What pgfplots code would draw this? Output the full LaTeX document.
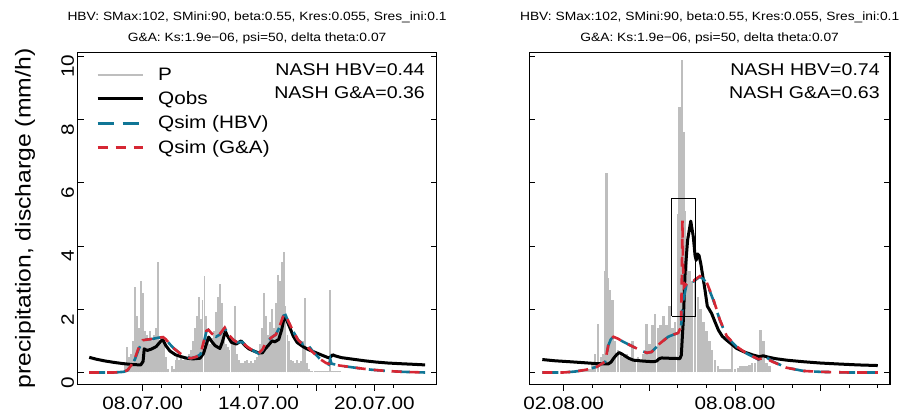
\documentclass[border=0pt]{standalone}
\usepackage{pgfplots}
\pgfplotsset{compat=1.18}
\usepackage{fontspec}
\setmainfont{Liberation Sans}[FakeStretch=1.15]
\definecolor{pgray}{RGB}{190,190,190}
\definecolor{hbvblue}{RGB}{16,118,150}
\definecolor{gared}{RGB}{214,39,52}

\pgfplotstableread{
x y
7.1 0.3
7.2 0.8
7.3 0.5
7.4 0.6
7.5 1.0
7.6 2.7
7.7 1.8
7.8 1.4
7.9 2.9
8.0 2.5
8.1 1.3
8.2 1.2
8.3 1.1
8.4 1.3
8.5 1.0
8.6 1.2
8.7 1.4
8.8 3.5
8.9 1.0
9.0 1.1
9.1 0.9
9.2 0.5
9.3 0.1
9.4 0.0
9.5 0.2
9.6 0.1
9.7 0.4
9.8 0.5
9.9 0.4
10.0 0.5
10.1 0.4
10.2 0.5
10.3 0.4
10.4 0.6
10.5 0.7
10.6 1.0
10.7 1.4
10.8 1.8
10.9 2.4
11.0 1.7
11.1 2.3
11.2 3.05
11.3 1.8
11.4 1.0
11.5 0.9
11.6 1.1
11.7 1.3
11.8 1.9
11.9 2.4
12.0 2.8
12.1 2.2
12.2 1.2
12.3 0.9
12.4 0.8
12.5 0.7
12.6 0.9
12.7 1.0
12.8 2.1
12.9 0.6
13.0 0.4
13.1 0.3
13.2 0.3
13.3 0.35
13.4 0.4
13.5 0.3
13.6 0.35
13.7 0.3
13.8 0.4
13.9 0.5
14.0 0.6
14.1 0.9
14.2 1.4
14.3 2.5
14.4 1.8
14.5 1.2
14.6 1.6
14.7 2.0
14.8 1.4
14.9 2.2
15.0 3.1
15.1 2.9
15.2 3.5
15.3 3.8
15.4 2.1
15.5 1.2
15.6 1.0
15.7 0.4
15.8 0.35
15.9 0.3
16.0 0.4
16.1 0.3
16.2 0.35
16.3 1.0
16.4 2.35
16.5 0.3
16.6 0.1
16.7 0.05
16.8 0.05
16.9 0.05
17.0 0.05
17.1 0.05
17.2 0.05
17.3 0.05
17.4 0.05
17.5 0.05
17.6 0.05
17.7 2.6
17.8 0.05
17.9 0.05
18.0 0.05
18.1 0.05
18.2 0.05
}\Pleft

\pgfplotstableread{
x y
5.23 0.48
5.6 0.42
6.0 0.37
6.5 0.32
7.0 0.28
7.5 0.25
7.9 0.24
8.02 0.35
8.08 0.75
8.15 0.72
8.25 0.70
8.45 0.74
8.7 0.82
8.95 1.0
9.05 1.03
9.2 0.85
9.41 0.68
9.7 0.56
10.0 0.5
10.3 0.45
10.6 0.43
10.97 0.45
11.15 0.6
11.3 0.9
11.42 1.12
11.55 1.0
11.75 0.85
12.0 0.76
12.12 0.95
12.28 1.3
12.4 1.15
12.6 0.95
12.85 0.9
13.1 1.0
13.3 0.85
13.5 0.75
13.75 0.68
14.0 0.62
14.2 0.62
14.35 0.75
14.5 0.85
14.7 1.0
14.85 0.97
15.05 1.05
15.2 1.35
15.3 1.65
15.38 1.78
15.5 1.6
15.65 1.38
15.8 1.15
16.0 0.95
16.3 0.82
16.6 0.72
17.0 0.62
17.4 0.52
17.65 0.46
17.75 0.5
17.85 0.56
17.95 0.53
18.3 0.47
18.9 0.42
19.5 0.37
20.1 0.33
20.7 0.3
21.3 0.28
22.0 0.26
22.63 0.24
}\Qleft

\pgfplotstableread{
x y
5.23 0
6.5 0
7.0 0.02
7.2 0.06
7.4 0.2
7.6 0.42
7.8 0.75
8.0 1.0
8.2 1.04
8.5 1.06
8.8 1.1
9.05 1.12
9.2 1.05
9.4 0.9
9.6 0.77
9.9 0.62
10.2 0.5
10.5 0.45
10.8 0.5
11.0 0.58
11.15 0.9
11.3 1.3
11.4 1.35
11.6 1.22
11.8 1.13
12.0 1.2
12.25 1.4
12.45 1.2
12.7 1.03
12.9 0.95
13.15 0.97
13.4 0.82
13.7 0.7
14.0 0.6
14.2 0.7
14.4 0.95
14.7 1.12
14.9 1.2
15.1 1.45
15.3 1.8
15.4 1.82
15.55 1.6
15.8 1.3
16.05 1.03
16.3 0.9
16.45 0.97
16.55 0.88
16.85 0.64
17.2 0.42
17.5 0.3
17.65 0.25
17.72 0.42
17.78 0.28
18.2 0.22
18.9 0.16
19.8 0.09
20.6 0.05
21.5 0.02
22.63 0
}\Hleft

\pgfplotstableread{
x y
5.23 0
6.5 0
7.0 0.02
7.2 0.07
7.4 0.22
7.6 0.45
7.8 0.8
8.0 1.02
8.2 1.04
8.5 1.06
8.8 1.1
9.05 1.12
9.2 1.05
9.4 0.9
9.6 0.77
9.9 0.62
10.2 0.5
10.5 0.45
10.8 0.5
11.0 0.6
11.15 0.95
11.3 1.32
11.4 1.35
11.6 1.22
11.8 1.13
12.0 1.22
12.25 1.42
12.45 1.2
12.7 1.03
12.9 0.95
13.15 0.97
13.4 0.82
13.7 0.7
14.0 0.6
14.2 0.72
14.4 0.97
14.7 1.12
14.9 1.2
15.1 1.47
15.3 1.82
15.4 1.84
15.55 1.62
15.8 1.3
16.05 1.03
16.3 0.88
16.55 0.8
16.85 0.62
17.2 0.42
17.5 0.3
17.8 0.25
18.2 0.22
18.9 0.16
19.8 0.09
20.6 0.05
21.5 0.02
22.63 0
}\Gleft

\pgfplotstableread{
x y
2.2 0.05
2.3 0.05
2.4 0.08
2.5 0.05
2.6 0.1
2.7 0.08
2.8 0.1
2.9 0.1
3.0 0.3
3.1 0.6
3.2 1.55
3.3 0.5
3.4 0.6
3.45 3.2
3.5 6.3
3.55 3.0
3.6 2.6
3.7 2.3
3.8 1.0
3.9 0.7
4.0 0.6
4.1 0.5
4.2 0.6
4.3 0.5
4.4 1.0
4.5 0.4
4.6 0.5
4.7 0.4
4.8 0.6
4.9 1.55
5.0 0.9
5.1 1.5
5.2 1.85
5.3 1.4
5.4 1.5
5.5 1.8
5.6 1.5
5.7 2.1
5.8 1.4
5.9 1.6
6.0 5.0
6.05 8.4
6.1 7.8
6.15 9.9
6.2 7.6
6.25 5.1
6.3 3.7
6.4 3.2
6.5 2.9
6.6 3.0
6.7 2.4
6.8 2.0
6.9 1.6
7.0 1.3
7.1 1.0
7.2 0.7
7.3 0.4
7.4 0.2
7.5 0.1
7.6 0.1
7.7 0.1
7.8 0.1
7.9 0.9
8.0 0.1
8.1 0.15
8.2 0.2
8.3 0.2
8.4 0.2
8.5 0.25
8.6 0.3
8.7 0.3
8.8 0.5
8.9 1.35
9.0 1.0
9.1 0.3
9.2 0.2
}\Pright

\pgfplotstableread{
x y
1.25 0.41
1.7 0.37
2.22 0.34
2.7 0.31
3.16 0.28
3.56 0.27
3.66 0.33
3.74 0.44
3.85 0.56
3.94 0.63
4.05 0.58
4.15 0.52
4.3 0.44
4.44 0.39
4.8 0.36
5.14 0.34
5.25 0.36
5.35 0.44
5.43 0.46
5.7 0.45
6.07 0.44
6.12 0.55
6.16 1.2
6.19 1.65
6.25 3.13
6.34 4.19
6.45 4.79
6.54 4.29
6.6 3.7
6.64 3.55
6.69 3.75
6.74 3.7
6.8 3.45
6.88 3.0
6.95 2.6
7.03 2.1
7.18 1.87
7.3 1.6
7.42 1.34
7.55 1.15
7.71 1.02
7.9 0.88
8.06 0.76
8.35 0.64
8.64 0.55
8.85 0.5
8.99 0.53
9.1 0.5
9.4 0.44
9.81 0.39
10.4 0.34
10.98 0.3
11.6 0.27
12.3 0.24
13.0 0.22
}\Qright

\pgfplotstableread{
x y
1.25 0
1.98 0
2.4 0.03
2.8 0.09
3.16 0.18
3.45 0.34
3.56 0.85
3.65 1.05
3.74 1.13
3.9 1.07
4.09 0.97
4.44 0.81
4.75 0.68
4.91 0.62
5.08 0.65
5.22 0.78
5.37 0.92
5.66 1.13
5.85 1.2
6.01 1.25
6.11 1.45
6.19 2.29
6.31 2.82
6.42 2.92
6.55 2.88
6.65 2.95
6.77 3.03
6.9 2.95
7.01 2.82
7.24 2.29
7.47 1.65
7.71 1.13
8.06 0.81
8.41 0.6
8.82 0.41
8.95 0.48
9.05 0.52
9.15 0.45
9.34 0.34
9.81 0.15
10.39 0.05
11.0 0.02
12.0 0
13.0 0
}\Hright

\pgfplotstableread{
x y
1.25 0
1.98 0
2.4 0.03
2.8 0.09
3.16 0.18
3.45 0.34
3.56 0.85
3.65 1.05
3.74 1.13
3.9 1.07
4.09 0.97
4.44 0.81
4.75 0.68
4.91 0.62
5.08 0.65
5.22 0.78
5.37 0.92
5.66 1.13
5.85 1.2
6.01 1.25
6.11 1.45
6.14 3.2
6.16 4.82
6.18 3.4
6.21 2.7
6.3 2.8
6.42 2.92
6.55 2.9
6.65 2.97
6.77 3.05
6.9 2.97
7.01 2.85
7.24 2.32
7.47 1.67
7.71 1.15
8.06 0.82
8.41 0.6
8.82 0.42
9.05 0.46
9.34 0.33
9.81 0.15
10.39 0.05
11.0 0.02
12.0 0
13.0 0
}\Gright

\pgfplotsset{
  common/.style={
    scale only axis, height=332.2pt,
    anchor=south west,
    ymin=-0.38, ymax=10.13,
    ytick={0,2,4,6,8,10},
    axis line style={line width=1.1pt},
    every tick/.style={black, line width=1pt},
    major tick length=6pt, minor tick length=3pt,
    xtick align=outside, ytick align=inside,
    xtick pos=bottom,
    /pgf/number format/assume math mode=true,
    yticklabel style={rotate=90, anchor=south, font=\fontsize{18}{20}\selectfont, xshift=-10pt},
    xticklabel style={font=\fontsize{18}{20}\selectfont, yshift=-3pt},
    title style={font=\fontsize{12}{20.3}\selectfont, align=center, anchor=south, at={(0.5,1)}, yshift=2.5pt, inner sep=0pt},
    title={HBV: SMax:102, SMini:90, beta:0.55, Kres:0.055, Sres\_ini:0.1\\G\&A: Ks:1.9e\textminus 06, psi=50, delta theta:0.07},
    legend image code/.code={\draw[#1] (0pt,0pt) -- (45pt,0pt);},
  },
  pstyle/.style={ycomb, draw=pgray, forget plot},
  qstyle/.style={black, line width=3pt, line join=round, forget plot},
  hstyle/.style={hbvblue, line width=2.6pt, dash pattern=on 16pt off 9pt, forget plot},
  gstyle/.style={gared, line width=2.6pt, dash pattern=on 10pt off 8pt, forget plot},
}

\begin{document}
\begin{tikzpicture}
\useasboundingbox (0,0) rectangle (910pt,416pt);
\begin{axis}[common, at={(77.5pt,31.5pt)}, width=359.2pt,
  xmin=4.622, xmax=23.233,
  xtick={8,11,14,17,20}, xticklabels={08.07.00,,14.07.00,,20.07.00},
  minor xtick={9,10,12,13,15,16,18,19,21},
  ylabel={precipitation, discharge (mm/h)},
  ylabel style={at={(axis description cs:-0.146,0.5)}, anchor=center, font=\fontsize{21.5}{24}\selectfont},
  legend style={at={(axis description cs:0.0514,0.959)}, anchor=north west, draw=none, fill=none,
    font=\fontsize{18}{20}\selectfont, row sep=5.7pt, column sep=12pt, inner sep=0pt},
  legend cell align=left,
]
\addplot[pstyle, line width=1.9pt] table[x=x,y=y] {\Pleft};
\addplot[qstyle] table[x=x,y=y] {\Qleft};
\addplot[hstyle] table[x=x,y=y] {\Hleft};
\addplot[gstyle] table[x=x,y=y] {\Gleft};
\addlegendimage{pgray, line width=2.6pt}
\addlegendentry{P}
\addlegendimage{black, line width=3pt}
\addlegendentry{Qobs}
\addlegendimage{hbvblue, line width=2.6pt, dash pattern=on 16pt off 9pt}
\addlegendentry{Qsim (HBV)}
\addlegendimage{gared, line width=2.6pt, dash pattern=on 10pt off 8pt}
\addlegendentry{Qsim (G\&A)}
\node[anchor=east, font=\fontsize{17}{20}\selectfont, inner sep=0pt] at (axis description cs:0.9675,0.9467) {NASH HBV=0.44};
\node[anchor=east, font=\fontsize{17}{20}\selectfont, inner sep=0pt] at (axis description cs:0.9675,0.8775) {NASH G\&A=0.36};
\end{axis}

\begin{axis}[common, at={(529.3pt,31.5pt)}, width=360.7pt,
  xmin=0.795, xmax=13.429,
  xtick={2,5,8,11}, xticklabels={02.08.00,,08.08.00,},
  minor xtick={3,4,6,7,9,10,12,13},
  yticklabels={},
]
\addplot[pstyle, line width=2.6pt] table[x=x,y=y] {\Pright};
\addplot[qstyle] table[x=x,y=y] {\Qright};
\addplot[hstyle] table[x=x,y=y] {\Hright};
\addplot[gstyle] table[x=x,y=y] {\Gright};
\addplot[black, line width=1pt, forget plot] coordinates {(5.78,1.78) (6.63,1.78) (6.63,5.5) (5.78,5.5) (5.78,1.78)};
\node[anchor=east, font=\fontsize{17}{20}\selectfont, inner sep=0pt] at (axis description cs:0.972,0.9467) {NASH HBV=0.74};
\node[anchor=east, font=\fontsize{17}{20}\selectfont, inner sep=0pt] at (axis description cs:0.972,0.8775) {NASH G\&A=0.63};
\end{axis}
\end{tikzpicture}
\end{document}
